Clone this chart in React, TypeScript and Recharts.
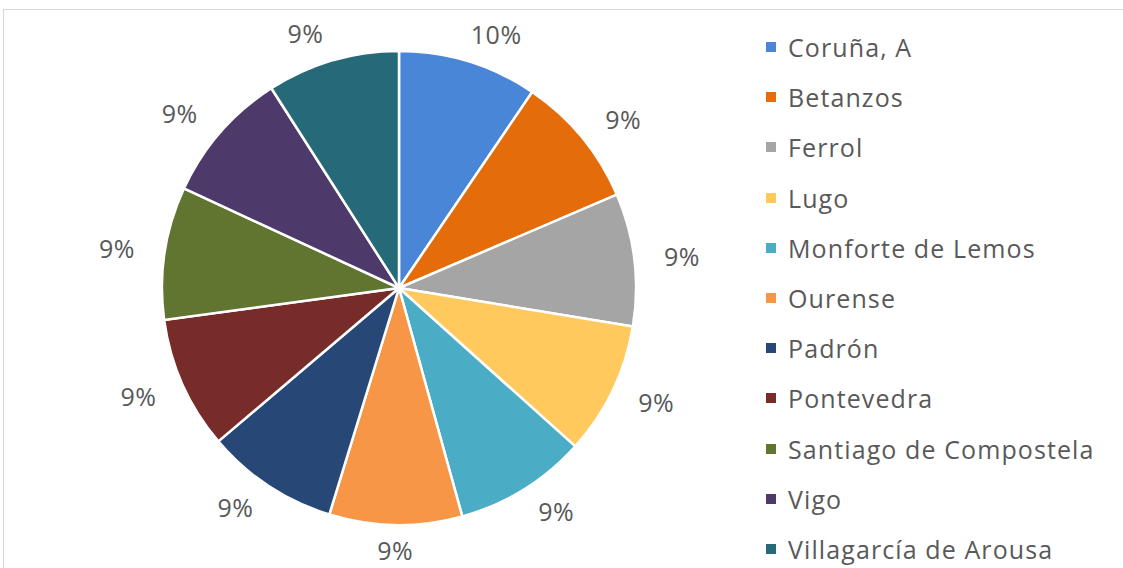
import React from 'react';
import { PieChart, Pie, Cell, Legend } from 'recharts';

const categories = [
  'Coruña, A',
  'Betanzos',
  'Ferrol',
  'Lugo',
  'Monforte de Lemos',
  'Ourense',
  'Padrón',
  'Pontevedra',
  'Santiago de Compostela',
  'Vigo',
  'Villagarcía de Arousa',
];
const values = [9.5, 9.05, 9.05, 9.05, 9.05, 9.05, 9.05, 9.05, 9.05, 9.05, 9.05];
const colors = [
  '#4A86D8',
  '#E46C0A',
  '#A5A5A5',
  '#FFC95E',
  '#4BACC6',
  '#F79646',
  '#274877',
  '#772C2A',
  '#5F7530',
  '#4D3A6B',
  '#266A7A',
];

const data = categories.map((name, i) => ({ name, value: values[i] }));
const total = values.reduce((a, b) => a + b, 0);
const RAD = Math.PI / 180;
const FONT = '"Open Sans", sans-serif';

const renderLabel = (props: any) => {
  const { cx, cy, midAngle, value } = props;
  const ux = Math.cos(midAngle * RAD);
  const uy = -Math.sin(midAngle * RAD);
  const sx = Math.abs(ux) < 0.05 ? 0 : Math.sign(ux);
  const r = 266 - 4 * Math.max(0, uy);
  const x = cx + r * ux + 19 * sx;
  const y = cy + r * uy;
  return (
    <text
      x={x}
      y={y}
      fill="#595959"
      fontSize={25}
      letterSpacing={0.5}
      fontFamily={FONT}
      textAnchor="middle"
      dominantBaseline="central"
    >
      {Math.round((value / total) * 100) + '%'}
    </text>
  );
};

const renderLegend = () => (
  <div style={{ fontFamily: FONT }}>
    {categories.map((c, i) => (
      <div key={c} style={{ height: 50.2, display: 'flex', alignItems: 'center' }}>
        <span style={{ width: 10, height: 10, background: colors[i], display: 'inline-block', marginRight: 12, flexShrink: 0 }} />
        <span style={{ fontSize: 25, letterSpacing: 1.1, color: '#595959', whiteSpace: 'nowrap', lineHeight: '30px' }}>{c}</span>
      </div>
    ))}
  </div>
);

export default function App() {
  return (
    <div style={{ position: 'absolute', left: 0, top: 0, width: 1123, height: 568, background: '#fff', overflow: 'hidden' }}>
      <div style={{ position: 'absolute', left: 3, top: 9, right: 0, bottom: 0, borderTop: '1px solid #D9D9D9', borderLeft: '1px solid #D9D9D9' }} />
      <PieChart width={1123} height={568} margin={{ top: 0, right: 0, bottom: 0, left: 0 }} style={{ position: 'absolute', left: 0, top: 0 }}>
        <Pie
          data={data}
          dataKey="value"
          nameKey="name"
          cx={399}
          cy={288}
          outerRadius={237}
          startAngle={90}
          endAngle={-270}
          stroke="#FFFFFF"
          strokeWidth={2.5}
          label={renderLabel}
          labelLine={false}
          isAnimationActive={false}
        >
          {data.map((d, i) => (
            <Cell key={d.name} fill={colors[i]} />
          ))}
        </Pie>
        <Legend
          content={renderLegend}
          wrapperStyle={{ position: 'absolute', left: 766, top: 22, width: 357 }}
        />
      </PieChart>
    </div>
  );
}
